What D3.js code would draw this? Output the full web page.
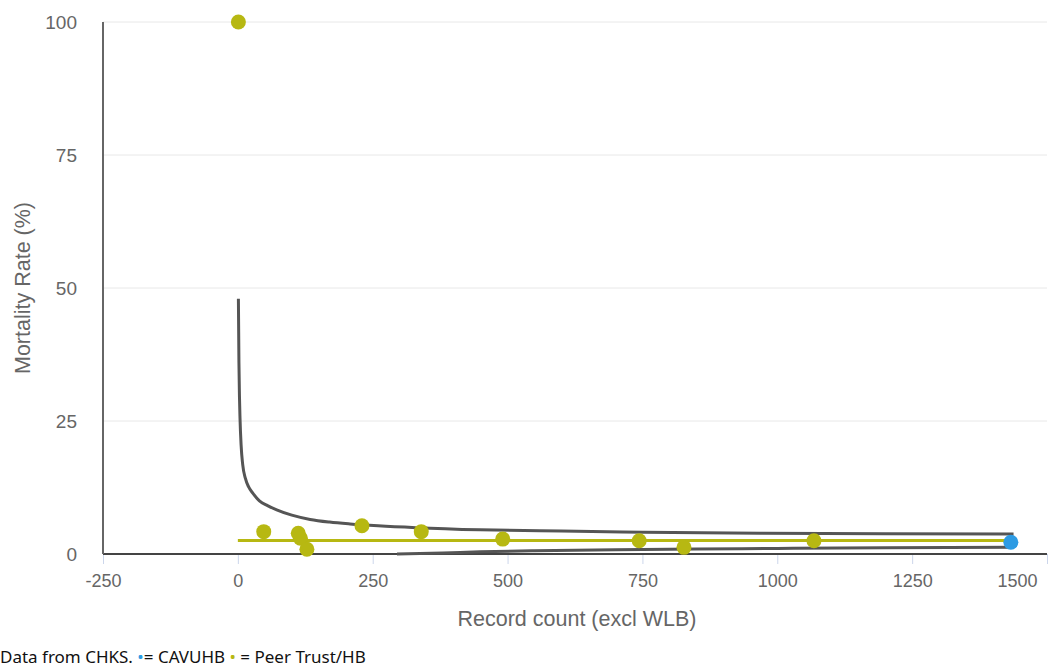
<!DOCTYPE html>
<html>
<head>
<meta charset="utf-8">
<script src="https://cdn.jsdelivr.net/npm/d3@7"></script>
<style>
  html, body { margin: 0; padding: 0; background: #fff; }
  svg { display: block; }
  .tick text { font-family: "Liberation Sans", Arial, sans-serif; fill: #666; }
</style>
</head>
<body>
<svg id="chart" width="1051" height="669"></svg>
<script>
// Funnel plot: mortality rate against record count, with control limits
const xTicks = [-250, 0, 250, 500, 750, 1000, 1250, 1500];
const yTicks = [0, 25, 50, 75, 100];

// Peer trusts / health boards: [record count, mortality rate %]
const peerCounts = [1, 48, 112, 116, 128, 230, 340, 491, 744, 827, 1068];
const peerRates  = [100, 4.2, 3.9, 2.95, 0.9, 5.3, 4.2, 2.8, 2.5, 1.25, 2.5];

// CAVUHB
const homeCounts = [1433];
const homeRates  = [2.2];

// Overall mean rate
const meanCounts = [0, 1438];
const meanRates  = [2.55, 2.55];

// Upper control limit
const upperCounts = [1, 2, 3, 4, 6, 9, 14, 20, 28, 40, 55, 72, 100, 134, 170, 208, 260, 330, 449, 600, 750, 968, 1200, 1438];
const upperRates  = [48, 36, 29.5, 25.5, 20.5, 16.8, 14.2, 12.6, 11.4, 10.0, 9.1, 8.3, 7.3, 6.5, 6.0, 5.65, 5.3, 4.95, 4.55, 4.3, 4.1, 3.9, 3.82, 3.75];

// Lower control limit
const lowerCounts = [295, 380, 449, 550, 700, 850, 1000, 1200, 1438];
const lowerRates  = [0, 0.2, 0.4, 0.6, 0.8, 0.95, 1.05, 1.18, 1.28];

const olive = "#b7b812";
const blue = "#2d9be3";

const svg = d3.select("#chart");
const x = d3.scaleLinear().domain([-250, 1500]).range([103, 1047]);
const y = d3.scaleLinear().domain([0, 100]).range([554, 22]);

// horizontal gridlines
svg.append("g").selectAll("line")
  .data(yTicks.filter(d => d > 0))
  .join("line")
  .attr("x1", x(-250)).attr("x2", x(1500))
  .attr("y1", d => y(d)).attr("y2", d => y(d))
  .attr("stroke", "#e8e8e8").attr("stroke-width", 1);

// x axis
const xAxis = svg.append("g")
  .attr("transform", `translate(0,${y(0)})`)
  .call(d3.axisBottom(x).tickValues(xTicks).tickSize(10).tickPadding(10).tickFormat(d => String(d)));
xAxis.select(".domain").remove();
xAxis.selectAll(".tick line").attr("stroke", "#ccd6eb").attr("stroke-width", 1);
xAxis.selectAll(".tick text").attr("font-size", 18);
xAxis.selectAll(".tick text").filter(d => d === 1500).attr("text-anchor", "end").attr("dx", -10);
svg.append("line")
  .attr("x1", x(-250)).attr("x2", x(1500))
  .attr("y1", y(0)).attr("y2", y(0))
  .attr("stroke", "#444").attr("stroke-width", 2);

// y axis
const yAxis = svg.append("g")
  .attr("transform", `translate(${x(-250)},0)`)
  .call(d3.axisLeft(y).tickValues(yTicks).tickSize(0).tickPadding(26).tickFormat(d => String(d)));
yAxis.select(".domain").remove();
yAxis.selectAll(".tick text").attr("font-size", 19);
svg.append("line")
  .attr("x1", x(-250)).attr("x2", x(-250))
  .attr("y1", y(100)).attr("y2", y(0))
  .attr("stroke", "#666").attr("stroke-width", 2);

// axis titles
svg.append("text")
  .attr("x", 577).attr("y", 626)
  .attr("text-anchor", "middle")
  .attr("font-family", "Liberation Sans, Arial, sans-serif")
  .attr("font-size", 21.5).attr("fill", "#666")
  .text("Record count (excl WLB)");
svg.append("text")
  .attr("transform", "translate(30,288) rotate(-90)")
  .attr("text-anchor", "middle")
  .attr("font-family", "Liberation Sans, Arial, sans-serif")
  .attr("font-size", 21.5).attr("fill", "#666")
  .text("Mortality Rate (%)");

// control limits
const line = d3.line().x(d => x(d[0])).y(d => y(d[1])).curve(d3.curveMonotoneX);
const upper = upperCounts.map((c, i) => [c, upperRates[i]]);
const lower = lowerCounts.map((c, i) => [c, lowerRates[i]]);
[upper, lower].forEach(pts => {
  svg.append("path")
    .attr("d", line(pts))
    .attr("fill", "none")
    .attr("stroke", "#555")
    .attr("stroke-width", 3);
});

// mean line
svg.append("path")
  .attr("d", line(meanCounts.map((c, i) => [c, meanRates[i]])))
  .attr("fill", "none")
  .attr("stroke", olive)
  .attr("stroke-width", 3);

// points
svg.append("g").selectAll("circle")
  .data(peerCounts.map((c, i) => [c, peerRates[i]]))
  .join("circle")
  .attr("cx", d => x(d[0])).attr("cy", d => y(d[1]))
  .attr("r", 7.5).attr("fill", olive);
svg.append("g").selectAll("circle")
  .data(homeCounts.map((c, i) => [c, homeRates[i]]))
  .join("circle")
  .attr("cx", d => x(d[0])).attr("cy", d => y(d[1]))
  .attr("r", 7.5).attr("fill", blue);

// footer note
const note = svg.append("text")
  .attr("x", 0).attr("y", 663)
  .attr("font-family", "Noto Sans, Open Sans, sans-serif")
  .attr("font-size", 17).attr("fill", "#111");
note.append("tspan").text("Data from CHKS. ");
note.append("tspan").attr("fill", blue).text("•");
note.append("tspan").text("= CAVUHB ");
note.append("tspan").attr("fill", olive).text("•");
note.append("tspan").text(" = Peer Trust/HB");
</script>
</body>
</html>
